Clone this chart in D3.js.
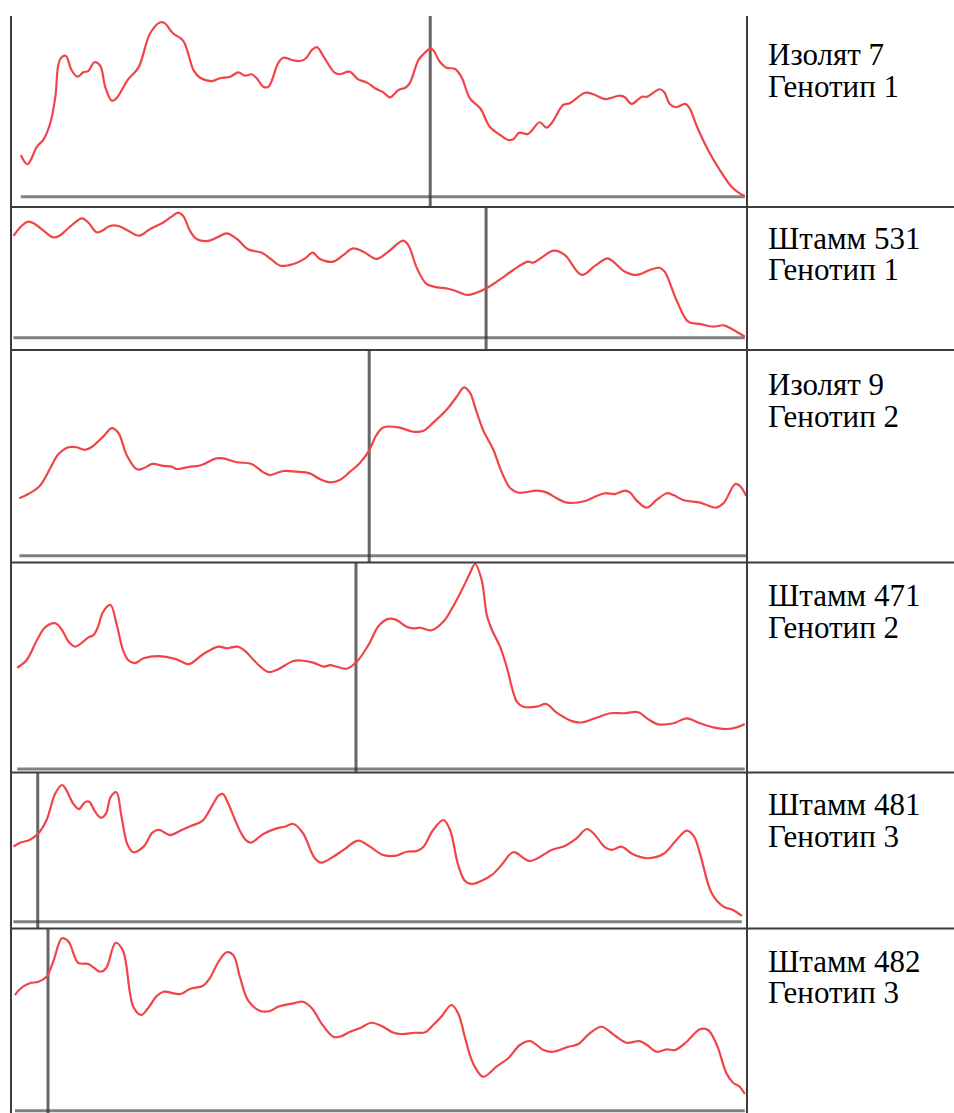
<!DOCTYPE html>
<html>
<head>
<meta charset="utf-8">
<script src="https://cdn.jsdelivr.net/npm/d3@7"></script>
</head>
<body style="margin:0">
<script>
// lane labels
const sampleNames = ['Изолят 7', 'Штамм 531', 'Изолят 9', 'Штамм 471', 'Штамм 481', 'Штамм 482'];
const genotypes = ['Генотип 1', 'Генотип 1', 'Генотип 2', 'Генотип 2', 'Генотип 3', 'Генотип 3'];

// marker position on each lane, % of lane length
const markerPos = [56.9, 64.5, 48.6, 46.8, 3.5, 4.9];

// profiles: [position % of lane, relative intensity %]
const isolate7 = [[1.2,23.9],[2.1,18.6],[3.4,28.7],[4.3,32.9],[5.2,42.1],[5.9,57.3],[6.5,78.4],[7.3,80.8],[8.1,72.6],[8.9,68.8],[9.7,71.3],[10.4,72.2],[11.2,77.1],[12.0,75.1],[12.7,62.7],[13.6,55.0],[14.2,56.4],[15.8,67.3],[17.2,74.0],[18.8,93.7],[20.2,100],[20.8,99.4],[21.9,93.7],[23.3,89.4],[24.7,72.6],[25.6,68.2],[27.2,66.3],[28.3,67.9],[29.7,68.8],[30.8,71.3],[31.7,69.4],[32.6,70.2],[33.3,67.9],[34.2,63.1],[34.9,63.1],[36.2,76.5],[36.9,79.7],[38.1,78.4],[39.2,77.8],[40.0,79.4],[40.8,84.1],[41.5,85.7],[42.4,80.3],[43.9,71.1],[44.6,70.2],[45.9,71.7],[47.1,67.3],[48.3,65.4],[49.4,62.2],[50.5,59.9],[51.4,57.0],[52.6,61.2],[53.5,62.5],[54.1,65.0],[55.3,78.4],[56.0,81.8],[56.9,84.9],[57.3,84.1],[58.2,77.4],[59.1,74.0],[60.3,73.2],[61.2,68.2],[62.3,56.4],[63.7,50.7],[65.0,40.1],[66.4,35.4],[67.5,32.5],[68.2,32.9],[69.0,36.7],[70.2,36.0],[71.8,42.7],[72.7,39.6],[73.4,42.1],[75.0,52.6],[75.9,53.6],[78.0,59.6],[79.3,58.3],[80.7,56.0],[82.7,57.9],[83.4,57.0],[84.3,53.2],[85.7,57.3],[86.4,57.3],[88.1,61.6],[88.7,60.2],[89.5,53.2],[90.3,51.3],[91.6,53.2],[92.2,50.7],[93.2,40.1],[94.7,26.8],[96.3,15.3],[97.9,5.7],[99.0,1.9],[99.7,0.4]];

const strain531 = [[0.2,81.4],[1.2,88.8],[2.2,92.8],[3.1,91.0],[4.3,85.6],[5.6,80.3],[6.4,81.4],[7.9,88.8],[9.5,95.5],[10.4,92.0],[11.5,84.3],[12.2,85.4],[13.3,89.4],[14.5,89.4],[15.8,85.6],[17.3,81.6],[18.8,87.0],[20.4,91.5],[21.7,96.8],[22.6,100],[23.3,97.4],[24.2,85.6],[25.1,79.0],[26.7,77.4],[28.1,80.8],[29.2,83.5],[30.6,79.0],[32.1,70.7],[34.0,68.0],[35.1,63.5],[36.5,57.6],[38.3,59.0],[39.9,63.5],[40.9,68.0],[41.9,63.0],[43.7,60.8],[45.1,66.2],[46.4,71.5],[47.8,68.8],[49.6,63.0],[51.2,68.8],[53.2,77.6],[53.9,74.2],[55.1,55.5],[56.4,43.0],[57.8,40.3],[59.1,39.5],[60.3,37.6],[61.9,34.2],[63.0,35.5],[64.8,40.3],[66.6,47.5],[68.2,54.2],[70.2,60.8],[70.9,60.0],[72.1,64.3],[73.7,69.6],[75.2,66.2],[77.5,50.2],[79.3,57.4],[81.0,63.5],[81.8,60.8],[83.4,52.8],[85.0,50.2],[86.8,54.2],[88.1,56.0],[88.8,52.8],[90.4,30.2],[92.0,12.8],[93.6,11.0],[95.4,8.8],[96.8,9.9],[98.2,6.2],[99.7,0.8]];

const isolate9 = [[1.0,34.1],[2.2,36.6],[3.8,41.6],[5.2,51.9],[6.3,60.2],[7.7,64.4],[8.8,64.4],[9.9,62.8],[10.8,64.4],[12.4,70.7],[13.6,75.7],[14.5,72.7],[15.6,59.8],[17.0,51.3],[17.9,51.9],[19.1,54.5],[20.6,53.3],[21.7,52.9],[22.4,51.5],[23.8,52.5],[25.8,53.9],[27.8,57.8],[28.7,57.8],[30.6,55.5],[32.6,54.5],[34.2,49.5],[35.1,47.9],[36.9,50.3],[38.7,49.9],[40.5,48.9],[41.9,45.5],[43.3,43.6],[44.6,45.0],[46.0,49.9],[47.3,54.9],[48.5,61.8],[49.6,71.7],[50.5,76.2],[52.6,76.2],[54.6,73.6],[56.0,74.2],[57.3,79.0],[59.1,86.5],[60.5,94.4],[61.5,100],[62.3,96.9],[63.2,85.5],[64.1,74.6],[65.5,62.8],[66.6,49.9],[67.8,40.0],[68.9,37.4],[71.4,38.6],[72.7,37.6],[74.1,34.1],[75.5,31.5],[78.0,32.5],[79.3,35.0],[80.7,37.1],[82.0,36.6],[83.4,38.6],[84.1,37.4],[85.0,32.7],[86.4,28.5],[87.7,33.1],[89.1,37.1],[90.0,36.0],[91.3,33.1],[93.6,31.5],[94.5,30.1],[95.8,28.5],[96.8,31.1],[98.4,42.6],[99.0,41.6],[99.9,35.5]];

const strain471 = [[0.7,49.4],[2.0,53.2],[3.4,62.9],[4.5,69.1],[5.9,71.1],[6.8,67.8],[7.7,62.1],[8.6,59.7],[10.4,64.2],[11.1,65.4],[11.7,69.4],[12.4,76.7],[13.4,80.0],[14.2,71.1],[15.1,58.0],[15.8,53.2],[16.7,51.6],[17.9,54.0],[19.9,55.1],[22.2,53.7],[23.1,52.3],[24.1,51.2],[26.0,56.0],[28.1,59.7],[29.2,58.9],[30.7,59.7],[31.7,57.6],[33.3,51.6],[34.9,47.3],[36.0,48.3],[38.3,52.7],[39.6,52.8],[41.0,51.9],[42.4,49.9],[43.3,50.7],[44.2,49.9],[45.5,48.9],[46.9,52.3],[48.5,60.5],[49.8,69.4],[51.0,73.0],[52.1,73.0],[53.7,69.4],[54.6,68.6],[55.5,68.9],[57.1,67.7],[58.7,71.9],[59.8,77.9],[61.2,87.3],[62.3,95.5],[63.0,100],[63.9,92.2],[64.6,75.1],[65.3,67.8],[66.4,59.7],[67.3,49.9],[68.7,32.8],[69.6,30.4],[71.4,30.4],[72.7,31.7],[74.1,27.5],[76.4,23.1],[77.7,22.8],[79.5,25.0],[81.4,27.2],[83.2,27.2],[85.2,27.7],[86.4,24.7],[87.9,21.8],[90.0,22.3],[91.8,24.7],[93.6,22.3],[95.4,20.3],[97.2,19.5],[98.6,20.3],[99.7,22.0]];

const strain481 = [[0.2,54.9],[1.1,57.8],[2.4,59.8],[3.6,64.7],[4.7,74.4],[5.9,93.9],[6.8,100],[7.4,96.3],[8.3,86.6],[9.1,82.4],[9.9,87.3],[10.5,87.8],[11.3,80.5],[12.1,76.1],[12.8,79.3],[13.4,91.0],[14.2,94.7],[14.9,76.8],[15.7,56.6],[16.5,50.8],[17.9,54.9],[19.1,65.1],[20.0,67.1],[21.5,63.4],[22.9,66.6],[24.4,70.2],[25.9,73.7],[27.2,84.6],[28.1,92.2],[28.7,93.4],[29.4,86.6],[31.0,66.6],[31.9,59.3],[32.5,57.8],[34.2,64.2],[36.0,68.3],[37.1,69.5],[38.3,71.5],[39.6,64.7],[41.2,46.4],[42.1,43.2],[43.7,47.5],[45.1,52.5],[47.1,59.3],[48.7,54.9],[50.5,48.8],[52.3,48.3],[53.7,51.2],[55.1,51.7],[56.0,54.9],[57.3,67.1],[58.7,74.4],[59.6,67.1],[60.7,41.5],[61.6,30.0],[62.5,27.6],[63.9,30.0],[65.3,34.2],[66.6,41.5],[68.2,50.8],[70.5,44.4],[73.4,52.5],[75.2,55.4],[76.8,61.0],[78.2,67.8],[79.1,64.7],[80.7,54.4],[81.6,52.5],[82.9,54.9],[84.5,49.3],[86.4,46.4],[88.6,49.5],[90.4,59.8],[91.8,66.6],[92.8,62.2],[93.6,50.0],[95.2,20.8],[96.8,11.0],[98.1,8.6],[99.3,4.2]];

const strain482 = [[0.4,67.1],[1.1,70.6],[2.4,73.9],[3.6,74.8],[4.7,77.7],[5.6,86.4],[6.8,100],[7.7,98.0],[9.0,85.8],[10.4,85.1],[12.0,80.6],[12.8,82.6],[14.1,97.4],[15.1,92.8],[16.5,60.3],[17.6,55.5],[18.5,59.4],[19.7,66.5],[20.6,69.0],[22.9,67.7],[24.2,70.6],[26.0,72.5],[26.9,76.8],[28.1,86.4],[29.2,91.9],[30.1,90.3],[31.0,77.7],[32.1,64.2],[33.7,58.0],[35.1,57.8],[36.2,60.3],[38.3,62.3],[39.6,63.2],[40.8,59.4],[42.1,50.7],[43.7,42.9],[44.6,42.9],[46.0,45.8],[47.3,47.8],[48.9,51.0],[50.3,49.1],[51.9,45.2],[53.0,44.5],[54.8,45.2],[56.2,45.5],[57.3,49.7],[58.4,54.5],[59.8,61.3],[60.7,56.5],[61.6,42.9],[62.3,32.3],[63.0,25.3],[64.1,19.7],[65.9,25.5],[67.5,30.4],[69.1,38.1],[70.5,40.4],[72.3,35.2],[73.6,34.2],[75.7,37.1],[77.0,38.5],[78.6,44.9],[80.2,48.7],[81.8,44.3],[83.6,39.4],[85.4,40.4],[86.4,38.1],[87.7,34.2],[89.1,35.6],[90.2,35.2],[91.8,40.0],[93.6,47.2],[94.7,46.8],[95.9,38.1],[97.2,21.7],[98.1,16.2],[99.0,13.9],[99.7,9.7]];

const profiles = [isolate7, strain531, isolate9, strain471, strain481, strain482];

// row geometry (px)
const rows = [
  { top: 16,    bottom: 207,   base: 196.7,  peak: 22.3,  labelY: 65 },
  { top: 207,   bottom: 350,   base: 337.7,  peak: 212.7, labelY: 248.5 },
  { top: 350,   bottom: 562.5, base: 555.7,  peak: 387.3, labelY: 395 },
  { top: 562.5, bottom: 772.5, base: 769,    peak: 564,   labelY: 606 },
  { top: 772.5, bottom: 928.5, base: 921.7,  peak: 785,   labelY: 815 },
  { top: 928.5, bottom: 1113,  base: 1110.7, peak: 938.3, labelY: 971.5 },
];

const W = 954, H = 1113;
const tableLeft = 11, colSplit = 747, labelX = 768, lineGap = 31.5;
const labelFont = "'Liberation Serif', 'Times New Roman', Tinos, FreeSerif, serif";

const svg = d3.select('body')
  .append('svg')
  .attr('width', W)
  .attr('height', H)
  .style('display', 'block');

const xs = d3.scaleLinear().domain([0, 100]).range([12, 747]);

profiles.forEach((data, i) => {
  const r = rows[i];
  const ys = d3.scaleLinear().domain([0, 100]).range([r.base, r.peak]);
  const ext = d3.extent(data, d => d[0]);

  // lane baseline
  svg.append('line')
    .attr('x1', xs(ext[0])).attr('x2', xs(ext[1]))
    .attr('y1', ys(0)).attr('y2', ys(0))
    .attr('stroke', '#555')
    .attr('stroke-opacity', 0.75)
    .attr('stroke-width', 3);

  // marker
  svg.append('line')
    .attr('x1', xs(markerPos[i])).attr('x2', xs(markerPos[i]))
    .attr('y1', r.top).attr('y2', r.bottom)
    .attr('stroke', '#333')
    .attr('stroke-opacity', 0.75)
    .attr('stroke-width', 3);

  const line = d3.line()
    .x(d => xs(d[0]))
    .y(d => ys(d[1]))
    .curve(d3.curveCatmullRom.alpha(0.5));

  svg.append('path')
    .datum(data)
    .attr('d', line)
    .attr('fill', 'none')
    .attr('stroke', '#f04448')
    .attr('stroke-width', 2.2)
    .attr('stroke-linejoin', 'round');
});

// labels: the font is set on each tspan itself so nothing inherited overrides it
const labelRows = rows.map((r, i) => ({ r, i }));
[['name', sampleNames, 0], ['geno', genotypes, 1]].forEach(([cls, texts, k]) => {
  svg.selectAll(`text.${cls}`)
    .data(labelRows)
    .join('text')
    .attr('class', cls)
    .attr('x', labelX)
    .attr('y', d => d.r.labelY + k * lineGap)
    .attr('font-family', labelFont)
    .attr('font-size', 31)
    .append('tspan')
    .attr('font-family', labelFont)
    .attr('font-size', 31)
    .style('font-family', labelFont)
    .style('font-size', '31px')
    .text(d => texts[d.i]);
});

// table grid
const grid = svg.append('g').attr('stroke', '#3c3c3c').attr('stroke-width', 2);
grid.append('line').attr('x1', tableLeft).attr('x2', tableLeft).attr('y1', rows[0].top).attr('y2', H);
grid.append('line').attr('x1', colSplit).attr('x2', colSplit).attr('y1', rows[0].top).attr('y2', H);
rows.slice(0, -1).forEach(r => {
  grid.append('line').attr('x1', tableLeft).attr('x2', W).attr('y1', r.bottom).attr('y2', r.bottom);
});
</script>
</body>
</html>
